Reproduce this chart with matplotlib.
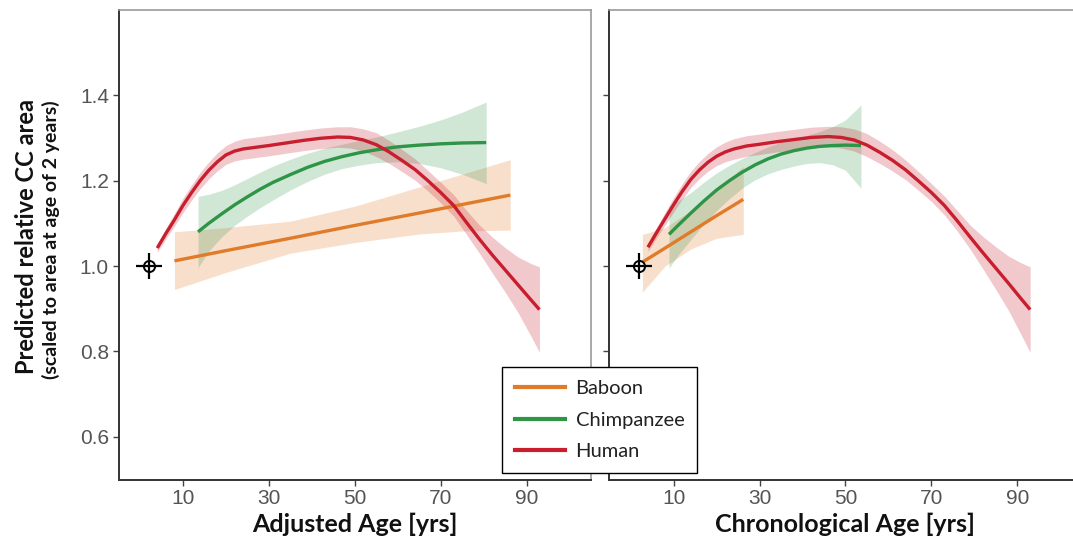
import matplotlib
matplotlib.use("Agg")
import matplotlib.pyplot as plt
from matplotlib.lines import Line2D
import numpy as np

# ---------------- data ----------------
# Left panel: adjusted age
hum_adj_x = [4, 6, 8, 10, 12, 14, 16, 18, 20, 22, 24, 27, 30, 34, 38, 42, 46, 49, 52, 55,
             58, 61, 64, 67, 70, 73, 76, 79, 82, 85, 88, 91, 93]
hum_adj_y = [1.042, 1.076, 1.108, 1.142, 1.172, 1.200, 1.224, 1.244, 1.260, 1.269, 1.274,
             1.278, 1.282, 1.288, 1.294, 1.299, 1.302, 1.301, 1.295, 1.284, 1.267, 1.247,
             1.226, 1.200, 1.172, 1.142, 1.102, 1.063, 1.026, 0.991, 0.956, 0.921, 0.898]
hum_adj_ci = [0.010, 0.012, 0.015, 0.017, 0.018, 0.019, 0.020, 0.021, 0.022, 0.023, 0.024,
              0.024, 0.024, 0.024, 0.024, 0.024, 0.024, 0.025, 0.026, 0.028, 0.027, 0.026,
              0.025, 0.024, 0.024, 0.025, 0.028, 0.033, 0.042, 0.052, 0.065, 0.085, 0.100]

chi_adj_x = [13.5, 16, 19, 22, 25, 28, 31, 35, 39, 43, 47, 51, 55, 60, 65, 70, 75, 80.6]
chi_adj_y = [1.080, 1.100, 1.122, 1.143, 1.162, 1.180, 1.196, 1.214, 1.231, 1.245, 1.256,
             1.265, 1.272, 1.279, 1.283, 1.286, 1.288, 1.289]
chi_adj_lo = [0.996, 1.035, 1.068, 1.095, 1.117, 1.137, 1.155, 1.178, 1.198, 1.215, 1.228,
              1.236, 1.242, 1.244, 1.240, 1.230, 1.215, 1.193]
chi_adj_hi = [1.163, 1.168, 1.177, 1.190, 1.205, 1.220, 1.234, 1.250, 1.264, 1.276, 1.285,
              1.294, 1.302, 1.314, 1.327, 1.342, 1.360, 1.384]

bab_adj_x = [8, 20, 35, 50, 65, 75, 86.2]
bab_adj_y = [1.012, 1.036, 1.065, 1.095, 1.124, 1.144, 1.166]
bab_adj_lo = [0.945, 0.985, 1.030, 1.055, 1.075, 1.082, 1.084]
bab_adj_hi = [1.080, 1.090, 1.105, 1.140, 1.185, 1.215, 1.249]

# Right panel: chronological age
hum_chr_x = [4, 6, 8, 10, 12, 14, 16, 18, 20, 22, 24, 27, 30, 34, 38, 42, 46, 49, 52, 55,
             58, 61, 64, 67, 70, 73, 76, 79, 82, 85, 88, 91, 93]
hum_chr_y = [1.044, 1.078, 1.111, 1.144, 1.175, 1.203, 1.225, 1.243, 1.257, 1.267, 1.274,
             1.281, 1.285, 1.291, 1.296, 1.301, 1.303, 1.301, 1.295, 1.283, 1.266, 1.247,
             1.225, 1.199, 1.172, 1.142, 1.106, 1.068, 1.031, 0.995, 0.959, 0.922, 0.898]
hum_chr_ci = [0.010, 0.012, 0.015, 0.017, 0.018, 0.019, 0.020, 0.021, 0.022, 0.023, 0.024,
              0.024, 0.024, 0.024, 0.024, 0.024, 0.024, 0.025, 0.026, 0.027, 0.026, 0.025,
              0.023, 0.022, 0.021, 0.022, 0.024, 0.028, 0.038, 0.050, 0.064, 0.085, 0.100]

chi_chr_x = [8.9, 11, 14, 17, 20, 23, 26, 29, 32, 35, 38, 41, 44, 47, 50, 53.6]
chi_chr_y = [1.074, 1.095, 1.124, 1.152, 1.178, 1.200, 1.220, 1.237, 1.251, 1.262, 1.270,
             1.276, 1.280, 1.282, 1.283, 1.282]
chi_chr_lo = [0.995, 1.025, 1.062, 1.098, 1.130, 1.158, 1.183, 1.202, 1.216, 1.226, 1.234,
              1.240, 1.242, 1.237, 1.224, 1.182]
chi_chr_hi = [1.140, 1.152, 1.172, 1.196, 1.218, 1.236, 1.252, 1.266, 1.279, 1.290, 1.298,
              1.306, 1.315, 1.326, 1.342, 1.377]

bab_chr_x = [2.7, 8, 14, 20, 26.2]
bab_chr_y = [1.009, 1.042, 1.080, 1.118, 1.156]
bab_chr_lo = [0.939, 1.000, 1.040, 1.065, 1.074]
bab_chr_hi = [1.074, 1.090, 1.130, 1.180, 1.233]

ref_x = [2]
ref_y = [1.0]

species = ["Baboon", "Chimpanzee", "Human"]
colors = {"Baboon": "#E07B2A", "Chimpanzee": "#2E9446", "Human": "#C81E2E"}
band_alpha = {"Baboon": 0.24, "Chimpanzee": 0.22, "Human": 0.24}

x_ticks = [10, 30, 50, 70, 90]
y_ticks = [0.6, 0.8, 1.0, 1.2, 1.4]
y_tick_labels = ["0.6", "0.8", "1.0", "1.2", "1.4"]

# ---------------- figure ----------------
W, H = 1073, 541
fig = plt.figure(figsize=(W / 100, H / 100), dpi=100)

def px_rect(x0, y_top, x1, y_bot):
    return [x0 / W, 1 - y_bot / H, (x1 - x0) / W, (y_bot - y_top) / H]

axL = fig.add_axes(px_rect(118.6, 9.7, 591, 479.6))
axR = fig.add_axes(px_rect(609.3, 9.7, 609.3 + 472.4, 479.6))

hy_a, hc_a = np.array(hum_adj_y), np.array(hum_adj_ci)
hy_c, hc_c = np.array(hum_chr_y), np.array(hum_chr_ci)

panels = [
    (axL, {"Baboon": (bab_adj_x, bab_adj_y, bab_adj_lo, bab_adj_hi),
           "Chimpanzee": (chi_adj_x, chi_adj_y, chi_adj_lo, chi_adj_hi),
           "Human": (hum_adj_x, hum_adj_y, hy_a - hc_a, hy_a + hc_a)},
     "Adjusted Age [yrs]"),
    (axR, {"Baboon": (bab_chr_x, bab_chr_y, bab_chr_lo, bab_chr_hi),
           "Chimpanzee": (chi_chr_x, chi_chr_y, chi_chr_lo, chi_chr_hi),
           "Human": (hum_chr_x, hum_chr_y, hy_c - hc_c, hy_c + hc_c)},
     "Chronological Age [yrs]"),
]

tick_font = "Liberation Sans"
label_font = ["Lato", "DejaVu Sans"]

for ax, data, xlabel in panels:
    for sp in species:
        x, y, lo, hi = data[sp]
        ax.fill_between(x, lo, hi, color=colors[sp], alpha=band_alpha[sp], lw=0, zorder=1)
    for sp in species:
        x, y, lo, hi = data[sp]
        ax.plot(x, y, color=colors[sp], lw=2.4, solid_capstyle="butt",
                solid_joinstyle="round", zorder=3)
    ax.plot(ref_x, ref_y, marker="o", ms=8, mfc="none", mec="black", mew=1.4,
            ls="none", zorder=5)
    ax.plot(ref_x, ref_y, marker="+", ms=19, mec="black", mew=1.6, ls="none", zorder=5)
    ax.set_xlim(-5, 105)
    ax.set_ylim(0.5, 1.6)
    ax.set_xticks(x_ticks)
    ax.set_xticklabels([str(t) for t in x_ticks], fontfamily=tick_font,
                       fontsize=15, color="#555555")
    ax.set_yticks(y_ticks)
    ax.tick_params(axis="both", direction="out", length=4, width=1, color="#444444", pad=3)
    for side in ("top", "right"):
        ax.spines[side].set_color("#9a9a9a")
        ax.spines[side].set_linewidth(1.2)
    for side in ("left", "bottom"):
        ax.spines[side].set_color("#333333")
        ax.spines[side].set_linewidth(1.4)
    ax.set_xlabel(xlabel, fontfamily=label_font, fontweight="bold", fontsize=18,
                  color="#111111", labelpad=3)

axL.set_yticklabels(y_tick_labels, fontfamily=tick_font, fontsize=15, color="#555555")
axR.set_yticklabels([])

fig.text(27 / W, 1 - 236 / H, "Predicted relative CC area", rotation=90,
         ha="center", va="center", fontfamily=label_font, fontweight="bold",
         fontsize=17, color="#111111")
fig.text(51 / W, 1 - 240 / H, "(scaled to area at age of 2 years)", rotation=90,
         ha="center", va="center", fontfamily=label_font, fontweight="bold",
         fontsize=14, color="#111111")

handles = [Line2D([0], [0], color=colors[sp], lw=3) for sp in species]
leg = fig.legend(handles, species, loc="upper left",
                 bbox_to_anchor=(502 / W, 1 - 367 / H),
                 frameon=True, fancybox=False, edgecolor="black", framealpha=1,
                 prop={"family": label_font, "size": 14.5},
                 handlelength=2.5, handletextpad=0.5, labelspacing=0.72,
                 borderpad=0.65, borderaxespad=0)
leg.get_frame().set_linewidth(1.0)
for t in leg.get_texts():
    t.set_color("#222222")

fig.savefig("out.png", dpi=100)
